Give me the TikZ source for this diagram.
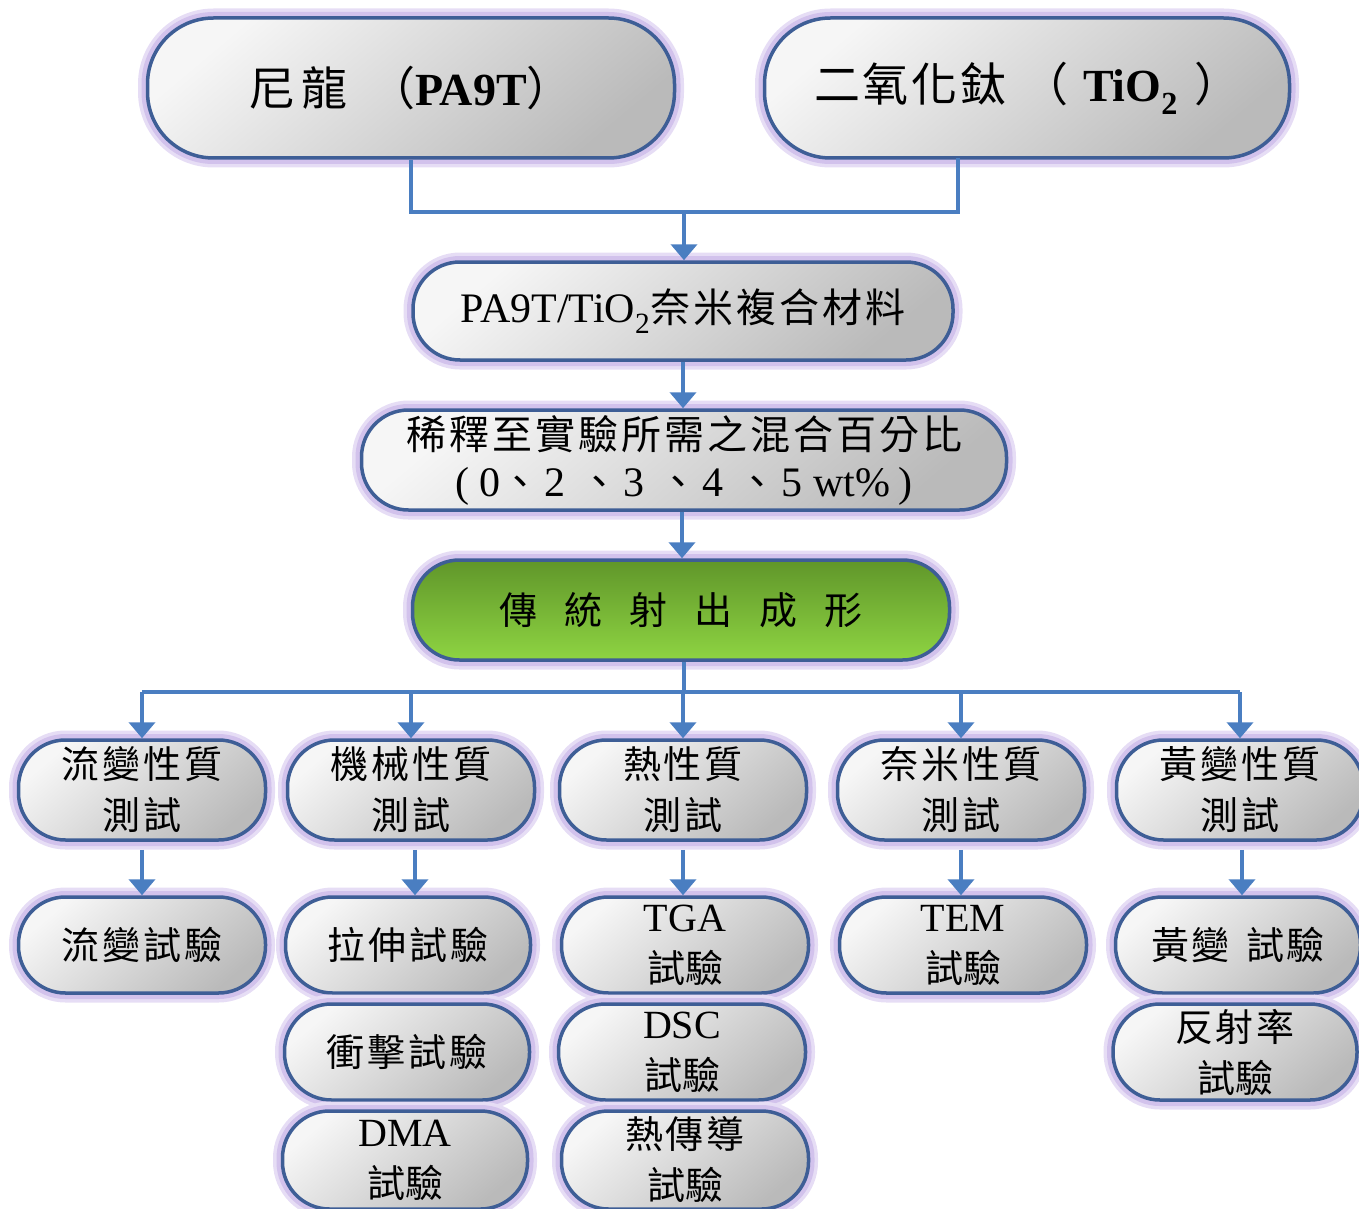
\documentclass[tikz,border=0pt]{standalone}
\usepackage{fontspec}
\setmainfont{Liberation Serif}
\newfontfamily\cjk{Noto Sans CJK TC}
\usetikzlibrary{arrows.meta}
\definecolor{bord}{RGB}{62,94,150}
\definecolor{glowc}{RGB}{210,194,236}
\definecolor{arrc}{RGB}{74,126,193}
\definecolor{glight}{RGB}{246,246,246}
\definecolor{gdark}{RGB}{186,186,186}
\definecolor{gtop}{RGB}{96,150,42}
\definecolor{gbot}{RGB}{142,212,66}
\newcommand\lat[1]{{\rmfamily #1}}
\newcommand\bl[1]{{\rmfamily\fontsize{42}{49}\selectfont #1}}
\tikzset{
  glowing/.style={preaction={draw=glowc!55, line width=19pt},
                  preaction={draw=glowc, line width=12pt}},
  pill/.style={glowing, draw=bord, line width=3.5pt, top color=glight, bottom color=gdark,
               shading angle=40, rounded corners=47pt, minimum height=100pt,
               minimum width=247pt, inner sep=1pt, align=center,
               font=\cjk\fontsize{38}{51}\selectfont},
  bigpill/.style={pill, rounded corners=66pt, minimum height=140pt, minimum width=527pt,
               font=\cjk\fontsize{46}{52}\selectfont},
  greenpill/.style={pill, top color=gtop, bottom color=gbot, shading angle=0},
  ln/.style={draw=arrc, line width=4.5pt},
  arr/.style={ln, -{Triangle[width=26pt,length=16pt]}}
}
\begin{document}
\begin{tikzpicture}[x=1pt,y=-1pt]
\useasboundingbox (0,0) rectangle (1359,1209);
% top
\node[bigpill] (nylon) at (411,88) {尼\hspace{6pt}龍\hspace{22pt}（\lat{\bfseries PA9T}）};
\node[bigpill, minimum width=525pt] (tio) at (1027,88) {二\hspace{3pt}氧\hspace{3pt}化\hspace{3pt}鈦\hspace{16pt}（\hspace{14pt}\lat{\bfseries TiO\textsubscript{2}}\hspace{16pt}）};
\node[pill, minimum width=540pt, minimum height=98pt, font=\cjk\fontsize{40}{48}\selectfont] (comp) at (683,311)
  {\lat{\fontsize{42}{48}\selectfont PA9T/TiO\textsubscript{2}}奈\hspace{3pt}米\hspace{3pt}複\hspace{3pt}合\hspace{3pt}材\hspace{3pt}料};
\node[pill, minimum width=645pt, minimum height=100pt, font=\cjk\fontsize{40}{49}\selectfont] (dil) at (684,460)
  {稀\hspace{3pt}釋\hspace{3pt}至\hspace{3pt}實\hspace{3pt}驗\hspace{3pt}所\hspace{3pt}需\hspace{3pt}之\hspace{3pt}混\hspace{3pt}合\hspace{3pt}百\hspace{3pt}分\hspace{3pt}比\\[-2pt]
   \bl{(}\hspace{10pt}\bl{0}、\hspace{4pt}\bl{2}\hspace{14pt}、\hspace{4pt}\bl{3}\hspace{14pt}、\hspace{4pt}\bl{4}\hspace{14pt}、\hspace{4pt}\bl{5 wt\%}\hspace{8pt}\bl{)}};
\node[greenpill, minimum width=537pt, minimum height=100pt] (mold) at (681,610)
  {傳\hspace{27pt}統\hspace{27pt}射\hspace{27pt}出\hspace{27pt}成\hspace{27pt}形};
% row 1
\node[pill] (r1) at (142,790) {流\hspace{3pt}變\hspace{3pt}性\hspace{3pt}質\\測\hspace{3pt}試};
\node[pill] (r2) at (411,790) {機\hspace{3pt}械\hspace{3pt}性\hspace{3pt}質\\測\hspace{3pt}試};
\node[pill] (r3) at (683,790) {熱\hspace{3pt}性\hspace{3pt}質\\測\hspace{3pt}試};
\node[pill] (r4) at (961,790) {奈\hspace{3pt}米\hspace{3pt}性\hspace{3pt}質\\測\hspace{3pt}試};
\node[pill] (r5) at (1240,790) {黃\hspace{3pt}變\hspace{3pt}性\hspace{3pt}質\\測\hspace{3pt}試};
% row 2
\node[pill, minimum height=96pt] (a1) at (142,945) {流\hspace{3pt}變\hspace{3pt}試\hspace{3pt}驗};
\node[pill, minimum height=96pt, minimum width=245pt] (a2) at (408,945) {拉\hspace{3pt}伸\hspace{3pt}試\hspace{3pt}驗};
\node[pill, minimum height=96pt] (a3) at (685,945) {\lat{\fontsize{40}{51}\selectfont TGA}\\試驗};
\node[pill, minimum height=96pt] (a4) at (963,945) {\lat{\fontsize{40}{51}\selectfont TEM}\\試驗};
\node[pill, minimum height=96pt, minimum width=245pt] (a5) at (1238,945) {黃\hspace{3pt}變\hspace{16pt}試\hspace{3pt}驗};
% row 3
\node[pill, minimum height=96pt, minimum width=245pt] (b2) at (407,1052) {衝\hspace{3pt}擊\hspace{3pt}試\hspace{3pt}驗};
\node[pill, minimum height=96pt] (b3) at (682,1052) {\lat{\fontsize{40}{51}\selectfont DSC}\\試驗};
\node[pill, minimum height=96pt, minimum width=244pt] (b5) at (1235,1052) {反\hspace{3pt}射\hspace{3pt}率\\試驗};
% row 4
\node[pill, minimum height=98pt, minimum width=245pt] (c2) at (405,1160) {\lat{\fontsize{40}{51}\selectfont DMA}\\試驗};
\node[pill, minimum height=98pt] (c3) at (685,1160) {熱\hspace{3pt}傳\hspace{3pt}導\\試驗};
% connectors
\coordinate (j) at (684,212);
\coordinate (tiofoot) at (958,158);
\coordinate (bus) at (684,692);
\draw[ln] (nylon.south) |- (j);
\draw[ln] (tiofoot) |- (j);
\draw[arr] (j) -- (j |- comp.north);
\draw[arr] (comp.south) -- (comp.south |- dil.north);
\draw[arr] ([xshift=-2pt]dil.south) -- ([xshift=-2pt]dil.south |- mold.north);
\draw[ln] (bus |- mold.south) -- (bus);
\draw[ln] (bus -| r1.north) -- (bus -| r5.north);
\foreach \r in {r1,r2,r3,r4,r5} \draw[arr] (bus -| \r.north) -- (\r.north);
\draw[arr] ([yshift=-8pt]r1.south) -- (r1.south |- a1.north);
\draw[arr] ([yshift=-8pt,xshift=4pt]r2.south) -- ([xshift=4pt]r2.south |- a2.north);
\draw[arr] ([yshift=-8pt]r3.south) -- (r3.south |- a3.north);
\draw[arr] ([yshift=-8pt]r4.south) -- (r4.south |- a4.north);
\draw[arr] ([yshift=-8pt,xshift=2pt]r5.south) -- ([xshift=2pt]r5.south |- a5.north);
\end{tikzpicture}
\end{document}
